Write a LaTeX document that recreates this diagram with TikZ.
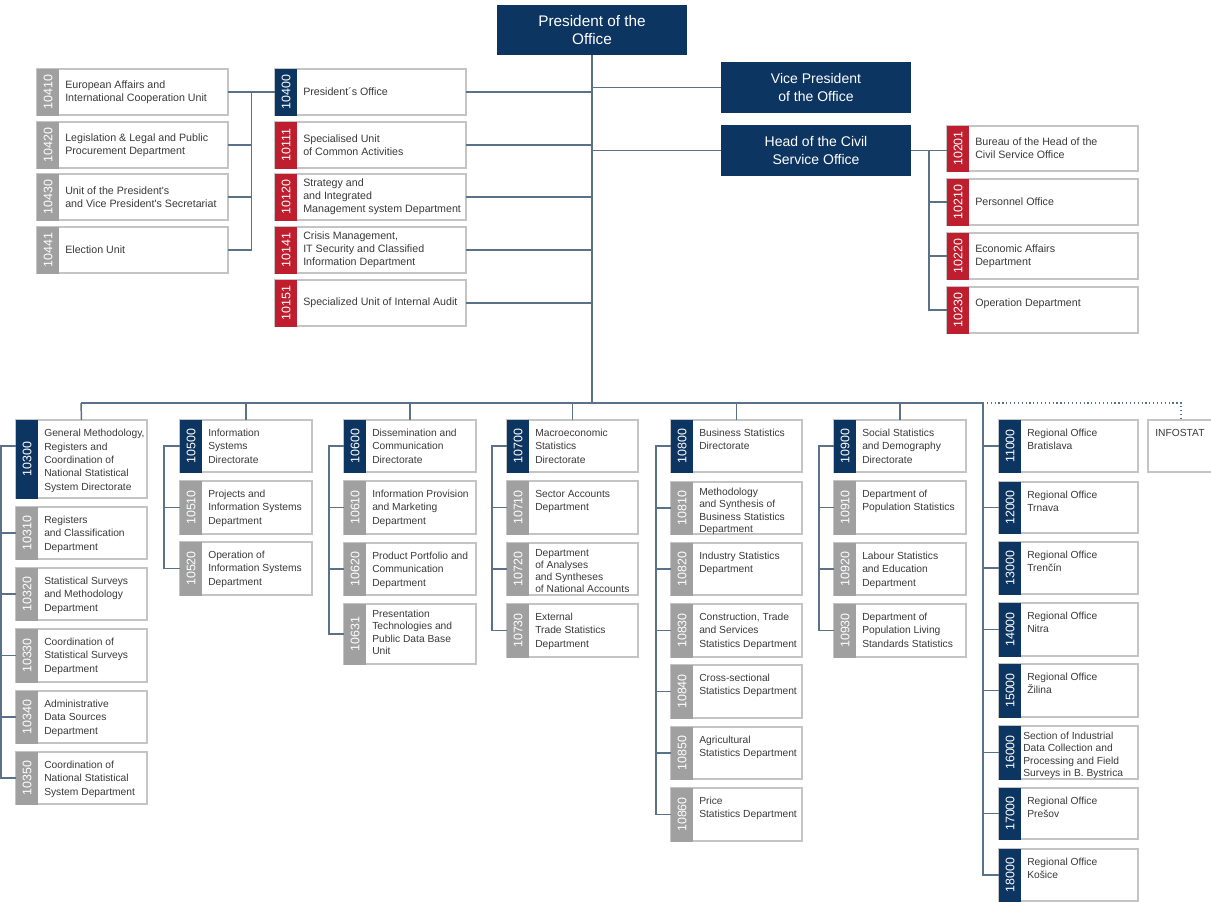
\documentclass[tikz,border=0pt]{standalone}
\usepackage{fontspec}
\setmainfont{Liberation Sans}
\usetikzlibrary{calc}
\definecolor{orgnavy}{HTML}{0D3561}
\definecolor{orgred}{HTML}{BE1E2D}
\definecolor{orggray}{HTML}{A0A0A0}
\definecolor{boxc}{HTML}{C4C4C4}
\definecolor{connc}{HTML}{5A7188}
\definecolor{txtc}{HTML}{3A3A3A}
\tikzset{
 unitbox/.style={draw=boxc, fill=white, line width=0.8pt, inner sep=0pt, outer sep=0pt},
 codetext/.style={rotate=90, text=white, font=\fontsize{9.3}{10}\selectfont, inner sep=0pt},
 midtext/.style={anchor=west, align=left, text=txtc, inner sep=0pt, font=\fontsize{8}{9.75}\selectfont},
 toptext/.style={anchor=north west, align=left, text=txtc, inner sep=0pt, font=\fontsize{7.7}{10}\selectfont},
 fourline/.style={font=\fontsize{7.7}{9.2}\selectfont, yshift=2.25pt},
 conn/.style={draw=connc, line width=1.1pt},
 dotconn/.style={draw=connc, line width=0.9pt, dotted},
 headbox/.style={fill=orgnavy, text=white, align=center, inner sep=0pt, outer sep=0pt},
}
\newcommand\tbox[9]{%
 \node[unitbox, minimum width={(#4-#2)*0.75pt}, minimum height={(#5-#3)*0.75pt}] (b#1) at ({(#2+#4)/2},{(#3+#5)/2}) {};
 \fill[#6] ({#2-0.5},{#3-0.5}) rectangle ({#2+22},{#5+0.5});
 \node[codetext] (c#1) at ({#2+11},{(#3+#5)/2}) {#7};
 \node[midtext,#9] (t#1) at ({#2+28},{(#3+#5)/2}) {#8};
}
\newcommand\bbox[9]{%
 \node[unitbox, minimum width={(#4-#2)*0.75pt}, minimum height={(#5-#3)*0.75pt}] (b#1) at ({(#2+#4)/2},{(#3+#5)/2}) {};
 \fill[#6] ({#2-0.5},{#3-0.5}) rectangle ({#2+22},{#5+0.5});
 \node[codetext] (c#1) at ({#2+11},{(#3+#5)/2}) {#7};
 \node[toptext,#9] (t#1) at ({#2+28},{#3+8.8}) {#8};
}
\begin{document}
\begin{tikzpicture}[x=0.75pt,y=-0.75pt]
\useasboundingbox (0,0) rectangle (1211,901);
\fill[white] (0,0) rectangle (1211,901);
% head boxes
\node[headbox, minimum width={190*0.75pt}, minimum height={50*0.75pt}, font=\fontsize{11.5}{13.5}\selectfont] (pres) at (592,30) {President of the\\Office};
\node[headbox, minimum width={190*0.75pt}, minimum height={51*0.75pt}, font=\fontsize{10.5}{13.2}\selectfont] (vp) at (816,87.5) {Vice President\\of the Office};
\node[headbox, minimum width={190*0.75pt}, minimum height={51*0.75pt}, font=\fontsize{10.5}{13}\selectfont] (head) at (816,150.5) {Head of the Civil\\Service Office};
% top-left
\tbox{10410}{37}{69}{228}{115}{orggray}{10410}{European Affairs and\\International Cooperation Unit}{}
\tbox{10420}{37}{122}{228}{168}{orggray}{10420}{Legislation \& Legal and Public\\Procurement Department}{}
\tbox{10430}{37}{174}{228}{220}{orggray}{10430}{Unit of the President\textquotesingle s\\and Vice President\textquotesingle s Secretariat}{}
\tbox{10441}{37}{227}{228}{273}{orggray}{10441}{Election Unit}{}
% centre
\tbox{10400}{275}{69}{466}{115}{orgnavy}{10400}{President´s Office}{}
\tbox{10111}{275}{122}{466}{168}{orgred}{10111}{Specialised Unit\\of Common Activities}{}
\tbox{10120}{275}{174}{466}{220}{orgred}{10120}{Strategy and\\and Integrated\\Management system Department}{}
\tbox{10141}{275}{227}{466}{273}{orgred}{10141}{Crisis Management,\\IT Security and Classified\\Information Department}{}
\tbox{10151}{275}{280}{466}{326}{orgred}{10151}{Specialized Unit of Internal Audit}{}
% right
\tbox{10201}{947}{126}{1138}{171}{orgred}{10201}{Bureau of the Head of the\\Civil Service Office}{}
\tbox{10210}{947}{179}{1138}{225}{orgred}{10210}{Personnel Office}{}
\tbox{10220}{947}{233}{1138}{279}{orgred}{10220}{Economic Affairs\\Department}{}
\tbox{10230}{947}{287}{1138}{333}{orgred}{10230}{Operation Department}{yshift=4.5pt}
% column 1
\bbox{10300}{16}{420}{147}{498}{orgnavy}{10300}{General Methodology,\\Registers and\\Coordination of\\National Statistical\\System Directorate}{yshift=-0.3pt}
\bbox{10310}{16}{507}{147}{559}{orggray}{10310}{Registers\\and Classification\\Department}{}
\bbox{10320}{16}{568}{147}{620}{orggray}{10320}{Statistical Surveys\\and Methodology\\Department}{}
\bbox{10330}{16}{629}{147}{682}{orggray}{10330}{Coordination of\\Statistical Surveys\\Department}{}
\bbox{10340}{16}{691}{147}{743}{orggray}{10340}{Administrative\\Data Sources\\Department}{}
\bbox{10350}{16}{752}{147}{804}{orggray}{10350}{Coordination of\\National Statistical\\System Department}{}
% column 2
\bbox{10500}{180}{420}{312}{472}{orgnavy}{10500}{Information\\Systems\\Directorate}{}
\bbox{10510}{180}{481}{312}{534}{orggray}{10510}{Projects and\\Information Systems\\Department}{}
\bbox{10520}{180}{542}{312}{595}{orggray}{10520}{Operation of\\Information Systems\\Department}{}
% column 3
\bbox{10600}{344}{420}{476}{472}{orgnavy}{10600}{Dissemination and\\Communication\\Directorate}{}
\bbox{10610}{344}{481}{476}{534}{orggray}{10610}{Information Provision\\and Marketing\\Department}{}
\bbox{10620}{344}{543}{476}{595}{orggray}{10620}{Product Portfolio and\\Communication\\Department}{}
\bbox{10631}{344}{604}{476}{664}{orggray}{10631}{Presentation\\Technologies and\\Public Data Base\\Unit}{fourline}
% column 4
\bbox{10700}{507}{420}{638}{472}{orgnavy}{10700}{Macroeconomic\\Statistics\\Directorate}{}
\bbox{10710}{507}{481}{638}{534}{orggray}{10710}{Sector Accounts\\Department}{}
\bbox{10720}{507}{543}{638}{595}{orggray}{10720}{Department\\of Analyses\\and Syntheses\\of National Accounts}{fourline}
\bbox{10730}{507}{604}{638}{657}{orggray}{10730}{External\\Trade Statistics\\Department}{}
% column 5
\bbox{10800}{671}{420}{802}{472}{orgnavy}{10800}{Business Statistics\\Directorate}{}
\bbox{10810}{671}{482}{802}{534}{orggray}{10810}{Methodology\\and Synthesis of\\Business Statistics\\Department}{fourline}
\bbox{10820}{671}{543}{802}{595}{orggray}{10820}{Industry Statistics\\Department}{}
\bbox{10830}{671}{604}{802}{657}{orggray}{10830}{Construction, Trade\\and Services\\Statistics Department}{}
\bbox{10840}{671}{665}{802}{718}{orggray}{10840}{Cross-sectional\\Statistics Department}{}
\bbox{10850}{671}{727}{802}{779}{orggray}{10850}{Agricultural\\Statistics Department}{}
\bbox{10860}{671}{788}{802}{841}{orggray}{10860}{Price\\Statistics Department}{}
% column 6
\bbox{10900}{834}{420}{966}{472}{orgnavy}{10900}{Social Statistics\\and Demography\\Directorate}{}
\bbox{10910}{834}{481}{966}{534}{orggray}{10910}{Department of\\Population Statistics}{}
\bbox{10920}{834}{543}{966}{595}{orggray}{10920}{Labour Statistics\\and Education\\Department}{}
\bbox{10930}{834}{604}{966}{657}{orggray}{10930}{Department of\\Population Living\\Standards Statistics}{}
% regional
\bbox{11000}{999}{420}{1138}{472}{orgnavy}{11000}{Regional Office\\Bratislava}{}
\bbox{12000}{999}{482}{1138}{533}{orgnavy}{12000}{Regional Office\\Trnava}{}
\bbox{13000}{999}{542}{1138}{594}{orgnavy}{13000}{Regional Office\\Trenčín}{}
\bbox{14000}{999}{603}{1138}{656}{orgnavy}{14000}{Regional Office\\Nitra}{}
\bbox{15000}{999}{664}{1138}{717}{orgnavy}{15000}{Regional Office\\Žilina}{}
\bbox{16000}{999}{726}{1138}{779}{orgnavy}{16000}{Section of Industrial\\Data Collection and\\Processing and Field\\Surveys in B. Bystrica}{fourline, xshift=-3pt}
\bbox{17000}{999}{788}{1138}{839}{orgnavy}{17000}{Regional Office\\Prešov}{}
\bbox{18000}{999}{849}{1138}{901}{orgnavy}{18000}{Regional Office\\Košice}{}
% INFOSTAT
\node[unitbox, minimum width={66*0.75pt}, minimum height={52*0.75pt}] (infostat) at (1181,446) {};
\node[toptext] (tinfo) at (1155,429.3) {INFOSTAT};
% connectors: top
\coordinate (busL) at (81,403);
\coordinate (busR) at (983,403);
\draw[conn] (pres.south) -- (pres.south |- busL);
\foreach \n in {10400,10111,10120,10141,10151}
  \draw[conn] (b\n.east) -- (b\n.east -| pres.south);
\draw[conn] (vp.west) -- (vp.west -| pres.south);
\draw[conn] (head.west) -- (head.west -| pres.south);
\coordinate (lv) at ($(b10410.east)!0.5!(b10400.west)$);
\draw[conn] (b10410.east) -- (b10400.west);
\draw[conn] (lv) |- (b10441.east);
\foreach \n in {10420,10430}
  \draw[conn] (b\n.east) -- (b\n.east -| lv);
\coordinate (rv) at ($(head.east)!0.5!(head.east -| b10201.west)$);
\draw[conn] (head.east) -- (head.east -| b10201.west);
\draw[conn] (rv) |- (b10230.west);
\foreach \n in {10210,10220}
  \draw[conn] (b\n.west) -- (b\n.west -| rv);
% bus
\draw[conn] (busL) -- (busR);
\draw[conn] (busL) -- (b10300.north);
\foreach \n in {10500,10600,10700,10800,10900}
  \draw[conn] (b\n.north |- busL) -- (b\n.north);
\draw[conn] (busR) |- (b18000.west);
\foreach \n in {11000,12000,13000,14000,15000,16000,17000}
  \draw[conn] (b\n.west) -- (b\n.west -| busR);
\draw[dotconn] (busR) -| (infostat.north);
% column connectors
\coordinate (c1v) at ($(b10300.north west)+(-15,26)$);
\draw[conn] ($(b10300.north west)+(0,26)$) -- (c1v) |- (b10350.west);
\foreach \n in {10310,10320,10330,10340}
  \draw[conn] (b\n.west) -- (b\n.west -| c1v);
\coordinate (c2v) at ($(b10500.west)+(-16,0)$);
\draw[conn] (b10500.west) -- (c2v) |- (b10520.west);
\draw[conn] (b10510.west) -- (b10510.west -| c2v);
\coordinate (c3v) at ($(b10600.west)+(-15,0)$);
\draw[conn] (b10600.west) -- (c3v) |- (b10631.west);
\foreach \n in {10610,10620}
  \draw[conn] (b\n.west) -- (b\n.west -| c3v);
\coordinate (c4v) at ($(b10700.west)+(-15,0)$);
\draw[conn] (b10700.west) -- (c4v) |- (b10730.west);
\foreach \n in {10710,10720}
  \draw[conn] (b\n.west) -- (b\n.west -| c4v);
\coordinate (c5v) at ($(b10800.west)+(-15,0)$);
\draw[conn] (b10800.west) -- (c5v) |- (b10860.west);
\foreach \n in {10810,10820,10830,10840,10850}
  \draw[conn] (b\n.west) -- (b\n.west -| c5v);
\coordinate (c6v) at ($(b10900.west)+(-15,0)$);
\draw[conn] (b10900.west) -- (c6v) |- (b10930.west);
\foreach \n in {10910,10920}
  \draw[conn] (b\n.west) -- (b\n.west -| c6v);
\end{tikzpicture}
\end{document}
